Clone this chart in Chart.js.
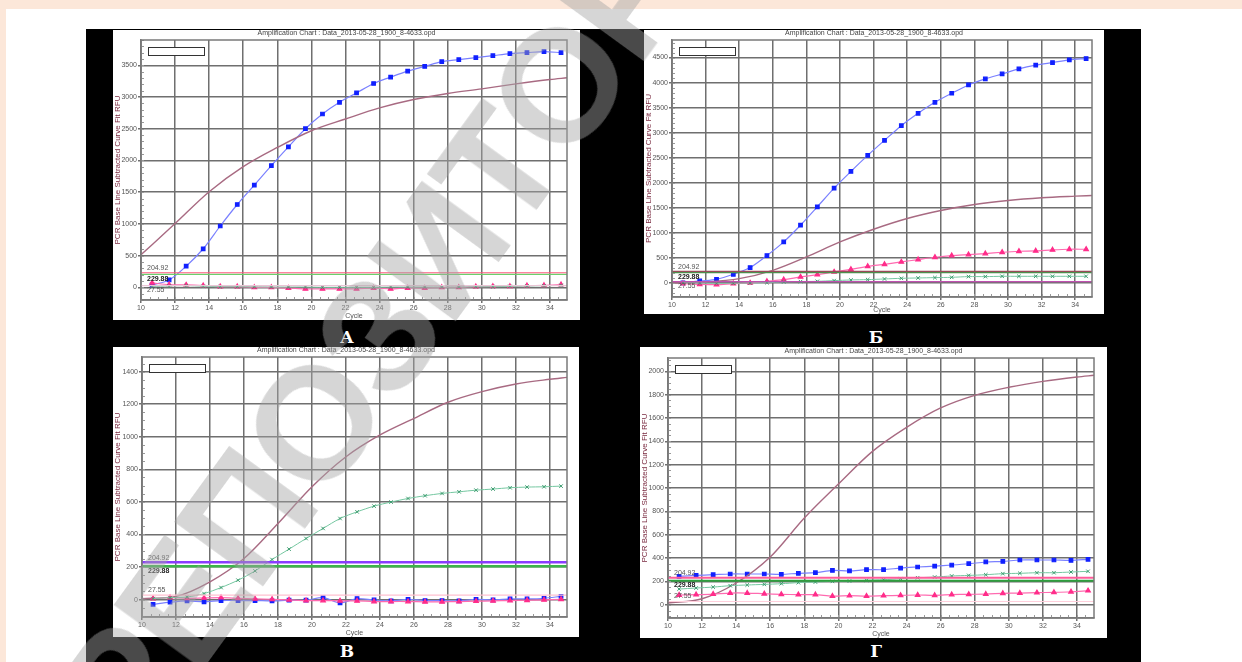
<!DOCTYPE html>
<html>
<head>
<meta charset="utf-8">
<script src="https://cdn.jsdelivr.net/npm/chart.js@4"></script>
<style>
  body { margin: 0; width: 1242px; height: 662px; background: #fce7d9; overflow: hidden; position: relative; font-family: "Liberation Sans", Arial, sans-serif; }
  #sheet { position: absolute; left: 6px; top: 9px; right: 0; bottom: 0; background: #fff; }
  #black { position: absolute; left: 86px; top: 29px; width: 1055px; height: 633px; background: #000; }
  canvas { position: absolute; background: #fff; }
  .lbl { position: absolute; color: #fff; font: bold 17px "DejaVu Serif", "Liberation Serif", serif; transform: translate(-50%, -50%); }
  #wm { position: absolute; left: 438px; top: 252px; transform: translate(-50%, -50%) rotate(-54deg);
        font: bold 160px "Liberation Sans", Arial, sans-serif; color: rgba(165,165,165,0.45);
        white-space: nowrap; pointer-events: none; letter-spacing: -4px; }
</style>
</head>
<body>
<div id="sheet"></div>
<div id="black"></div>
<div class="lbl" style="left:347px;top:337px">А</div>
<div class="lbl" style="left:876px;top:337px">Б</div>
<div class="lbl" style="left:347px;top:651px">В</div>
<div class="lbl" style="left:876px;top:651px">Г</div>
<script>
// cycles where the markers sit, and the fitted-curve sample cycles
const cycles = [10.65, 11.65, 12.65, 13.65, 14.65, 15.65, 16.65, 17.65, 18.65, 19.65, 20.65, 21.65, 22.65,
                23.65, 24.65, 25.65, 26.65, 27.65, 28.65, 29.65, 30.65, 31.65, 32.65, 33.65, 34.65];
const fitCycles = [10, 12, 14, 16, 18, 20, 22, 24, 26, 28, 30, 32, 34, 35];
const xTicks = [10, 12, 14, 16, 18, 20, 22, 24, 26, 28, 30, 32, 34];
const thresholds = [229.88, 204.92, 27.55];
const thresholdLabels = ['204.92', '229.88', '27.55'];

// А
const aYTicks = [0, 500, 1000, 1500, 2000, 2500, 3000, 3500];
const aBlue = [37, 116, 333, 608, 967, 1306, 1612, 1919, 2215, 2501, 2733, 2918, 3066, 3214, 3315, 3410, 3484, 3558, 3590, 3621, 3653, 3685, 3701, 3717, 3701];
const aPink = [69, 42, 37, 26, 11, 11, 0, 0, -11, -26, -26, -26, -26, -11, -26, -11, -11, 0, 0, 11, 16, 16, 26, 32, 42];
const aGreen = [10, 20, 25, 15, 10, 10, 8, 5, 5, 5, 0, 0, 0, 0, 5, 5, 5, 5, 5, 10, 10, 15, 20, 25, 30];
const aFit = [513, 1005, 1507, 1903, 2205, 2469, 2654, 2829, 2961, 3056, 3130, 3209, 3278, 3304];

// Б
const bYTicks = [0, 500, 1000, 1500, 2000, 2500, 3000, 3500, 4000, 4500];
const bBlue = [0, 40, 73, 173, 307, 547, 820, 1153, 1520, 1893, 2227, 2547, 2847, 3140, 3387, 3607, 3787, 3953, 4073, 4173, 4273, 4347, 4400, 4453, 4480];
const bPink = [-13, -27, -33, -13, 0, 33, 67, 120, 167, 220, 273, 333, 373, 420, 467, 513, 547, 567, 587, 613, 633, 640, 660, 673, 673];
const bGreen = [0, 0, -5, -5, 0, 7, 20, 27, 33, 47, 60, 67, 80, 93, 100, 107, 113, 127, 127, 133, 133, 133, 133, 133, 133];
const bFit = [0, 20, 87, 253, 520, 820, 1073, 1287, 1447, 1567, 1647, 1700, 1733, 1747];

// В
const vYTicks = [0, 200, 400, 600, 800, 1000, 1200, 1400];
const vBlue = [-29, -16, -8, -14, -6, -6, -6, -8, -4, -4, 12, -20, 6, -2, -8, 2, -6, -6, -8, 2, -2, 4, 4, 8, 20];
const vPink = [6, 12, 8, 10, 12, 8, 4, 2, -2, -6, -6, -8, -8, -12, -12, -12, -14, -14, -12, -10, -8, -6, -4, -2, 2];
const vGreen = [6, 12, 16, 37, 74, 119, 176, 246, 310, 375, 437, 498, 539, 574, 599, 621, 638, 652, 662, 672, 679, 687, 691, 693, 697];
const vFit = [6, 20, 109, 252, 467, 693, 877, 1011, 1113, 1212, 1277, 1324, 1353, 1365];

// Г
const gYTicks = [0, 200, 400, 600, 800, 1000, 1200, 1400, 1600, 1800, 2000];
const gBlue = [243, 251, 257, 263, 263, 263, 260, 269, 274, 294, 289, 300, 300, 314, 323, 331, 340, 351, 366, 371, 383, 383, 383, 380, 389];
const gPink = [83, 86, 91, 100, 100, 94, 89, 86, 86, 74, 77, 74, 77, 80, 83, 80, 86, 89, 91, 97, 100, 103, 106, 111, 120];
const gGreen = [134, 143, 151, 163, 169, 174, 180, 189, 194, 200, 203, 209, 214, 223, 231, 237, 246, 251, 257, 266, 269, 274, 274, 280, 286];
const gFit = [14, 51, 186, 409, 743, 1034, 1314, 1520, 1686, 1794, 1863, 1914, 1951, 1966];

const titleText = 'Amplification Chart : Data_2013-05-28_1900_8-4633.opd';
const font = '"Liberation Sans", Arial, sans-serif';

const panels = [
  { left: 113, top: 30, w: 467, h: 290, padTop: 10, padRight: 13, yw: 28, xh: 20, ymin: -200, ymax: 3900, yTicks: aYTicks, minor: 100,
    blue: aBlue, pink: aPink, green: aGreen, fit: aFit, th: ['#ff5a80', '#6ccf6c', '#e9c6d6'], thW: 1.2, lowBelow: true },
  { left: 644, top: 30, w: 460, h: 284, padTop: 10, padRight: 12, yw: 28, xh: 17, ymin: -280, ymax: 4850, yTicks: bYTicks, minor: 100,
    blue: bBlue, pink: bPink, green: bGreen, fit: bFit, th: ['#9a4a5a', '#4d8f4d', '#c050b0'], thW: 1.2, lowBelow: true },
  { left: 113, top: 347, w: 466, h: 290, padTop: 10, padRight: 12, yw: 29, xh: 20, ymin: -107, ymax: 1490, yTicks: vYTicks, minor: 50,
    blue: vBlue, pink: vPink, green: vGreen, fit: vFit, th: ['#8a3cff', '#3cb44b', '#ffc0d0'], thW: 2.5, lowBelow: false },
  { left: 640, top: 347, w: 467, h: 291, padTop: 11, padRight: 13, yw: 28, xh: 20, ymin: -114, ymax: 2114, yTicks: gYTicks, minor: 50,
    blue: gBlue, pink: gPink, green: gGreen, fit: gFit, th: ['#ff5c9a', '#2e9e3e', '#ffd0dc'], thW: 2, lowBelow: false }
];

const decor = {
  id: 'decor',
  afterDraw(chart, args, o) {
    const { ctx, chartArea: a, scales: { x, y } } = chart;
    ctx.save();
    // minor ticks
    ctx.strokeStyle = '#999'; ctx.lineWidth = 1;
    ctx.beginPath();
    for (let v = Math.ceil(y.min / o.minor) * o.minor; v <= y.max; v += o.minor) {
      const py = Math.round(y.getPixelForValue(v)) + 0.5;
      ctx.moveTo(a.left, py); ctx.lineTo(a.left + 3, py);
    }
    for (let c = 10.5; c < 35; c += 0.5) {
      const px = Math.round(x.getPixelForValue(c)) + 0.5;
      ctx.moveTo(px, a.bottom); ctx.lineTo(px, a.bottom - 3);
    }
    ctx.stroke();
    // frame
    ctx.strokeStyle = '#7a7a7a'; ctx.lineWidth = 1.5;
    ctx.strokeRect(a.left, a.top, a.right - a.left, a.bottom - a.top);
    // title
    ctx.fillStyle = '#444'; ctx.font = '7px ' + font;
    ctx.textAlign = 'center'; ctx.textBaseline = 'middle';
    ctx.fillText(o.title, chart.width / 2, a.top - 6.5);
    // empty legend box
    ctx.fillStyle = '#fff'; ctx.fillRect(a.left + 7, a.top + 7, 56, 8);
    ctx.strokeStyle = '#333'; ctx.lineWidth = 1;
    ctx.strokeRect(a.left + 7.5, a.top + 7.5, 56, 8);
    // threshold labels
    ctx.textAlign = 'left';
    const lx = a.left + 6;
    ctx.fillStyle = '#555'; ctx.textBaseline = 'bottom';
    ctx.fillText(thresholdLabels[0], lx, y.getPixelForValue(thresholds[0]) - 1);
    ctx.fillStyle = '#222'; ctx.font = 'bold 7px ' + font; ctx.textBaseline = 'top';
    ctx.fillText(thresholdLabels[1], lx, y.getPixelForValue(thresholds[1]) + 1);
    ctx.fillStyle = '#555'; ctx.font = '7px ' + font;
    if (o.lowBelow) {
      ctx.textBaseline = 'top';
      ctx.fillText(thresholdLabels[2], lx, y.getPixelForValue(thresholds[2]) + 1);
    } else {
      ctx.textBaseline = 'bottom';
      ctx.fillText(thresholdLabels[2], lx, y.getPixelForValue(thresholds[2]) - 2);
    }
    ctx.restore();
  }
};

function xy(xs, ys) { return xs.map((x, i) => ({ x: x, y: ys[i] })); }

panels.forEach(p => {
  const cv = document.createElement('canvas');
  cv.width = p.w; cv.height = p.h;
  cv.style.left = p.left + 'px'; cv.style.top = p.top + 'px';
  document.body.appendChild(cv);

  const datasets = thresholds.map((v, i) => ({
    data: [{ x: 10, y: v }, { x: 35, y: v }],
    borderColor: p.th[i], borderWidth: i === 2 ? 1.2 : p.thW, pointRadius: 0
  }));
  datasets.push(
    { data: xy(cycles, p.green), borderColor: '#74c7a0', borderWidth: 1, pointStyle: 'crossRot', pointRadius: 2.5,
      pointBorderColor: '#3e9c70', pointBorderWidth: 1, tension: 0.3 },
    { data: xy(cycles, p.pink), borderColor: '#ff6ab0', borderWidth: 1.2, pointStyle: 'triangle', pointRadius: 2.6,
      pointBackgroundColor: '#ff2d8a', pointBorderColor: '#ff2d8a', tension: 0.3 },
    { data: xy(fitCycles, p.fit), borderColor: '#a86a82', borderWidth: 1.4, pointRadius: 0, cubicInterpolationMode: 'monotone' },
    { data: xy(cycles, p.blue), borderColor: '#7a80ff', borderWidth: 1.2, pointStyle: 'rect', pointRadius: 2.5,
      pointBackgroundColor: '#1020ff', pointBorderColor: '#1020ff', tension: 0.3 }
  );

  new Chart(cv, {
    type: 'line',
    data: { datasets: datasets },
    plugins: [decor],
    options: {
      responsive: false,
      animation: false,
      layout: { padding: { left: 0, right: p.padRight, top: p.padTop, bottom: 0 } },
      plugins: {
        legend: { display: false },
        tooltip: { enabled: false },
        decor: { title: titleText, minor: p.minor, lowBelow: p.lowBelow }
      },
      scales: {
        x: {
          type: 'linear', min: 10, max: 35,
          afterFit: s => { s.height = p.xh; },
          afterBuildTicks: s => { s.ticks = xTicks.map(v => ({ value: v })); },
          ticks: { font: { size: 7, family: font }, color: '#555', padding: 1, maxRotation: 0, autoSkip: false, callback: v => String(v) },
          grid: { color: '#6f6f6f', lineWidth: 1.5, tickLength: 3 },
          border: { color: '#777', width: 1.5 },
          title: { display: true, text: 'Cycle', font: { size: 7, family: font }, color: '#555', padding: 0 }
        },
        y: {
          type: 'linear', min: p.ymin, max: p.ymax,
          afterFit: s => { s.width = p.yw; },
          afterBuildTicks: s => { s.ticks = p.yTicks.map(v => ({ value: v })); },
          ticks: { font: { size: 7, family: font }, color: '#555', padding: 1, autoSkip: false, callback: v => String(v) },
          grid: { color: '#6f6f6f', lineWidth: 1.5, tickLength: 3 },
          border: { color: '#777', width: 1.5 },
          title: { display: true, text: 'PCR Base Line Subtracted Curve Fit RFU', font: { size: 8, family: font }, color: '#7a2a40', padding: 0 }
        }
      }
    }
  });
});
</script>
<div id="wm">РЕПОЗИТОРИЙ</div>
</body>
</html>
